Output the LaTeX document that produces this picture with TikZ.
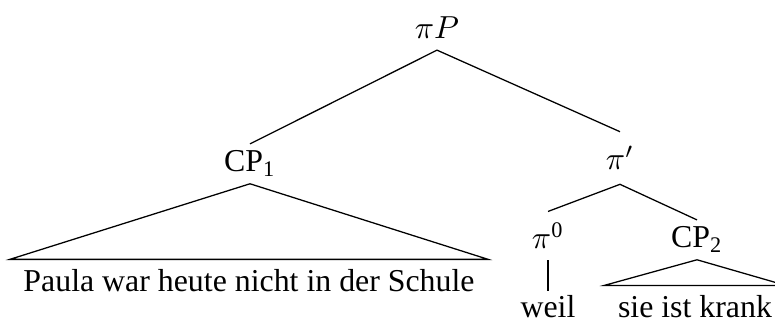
\documentclass[tikz,border=0pt]{standalone}
\usepackage{amssymb, amsmath}
\usepackage{fontspec}
\setmainfont{Liberation Serif}
\usepackage{tikz}

\tikzset{
	cat/.style={anchor=base, inner sep=3.3pt},
	leaf/.style={anchor=base, inner xsep=4.1pt, inner ysep=3.1pt}
}

\begin{document}
\begin{tikzpicture}[x=0.314pt, y=-0.314pt]
	\useasboundingbox (0, 0) rectangle (775, 323);
	% labels of the tree
	\node[cat] (pP) at (437, 39) {$\pi P$};
	\node[cat, inner ysep=2pt] (cpa) at (250, 172) {CP\textsubscript{1}};
	\node[cat, inner ysep=4.3pt] (pib) at (620, 170) {$\pi'$};
	\node[cat] (pin) at (548, 249) {$\pi$\textsuperscript{0}};
	\node[cat, inner ysep=2pt] (cpb) at (697, 248) {CP\textsubscript{2}};
	\node[cat, inner ysep=1.4pt] (weil) at (548, 318) {weil};
	\node[leaf] (txta) at (249, 292) {Paula war heute nicht in der Schule};
	\node[leaf] (txtb) at (695, 318) {sie ist krank};
	
	\draw (cpa.north) -- (pP.south) -- (pib.north);
	\draw (pin.north) -- (pib.south) -- (cpb.north);
	\draw (pin.south) -- (weil.north);
	\draw (cpa.south) -- (txta.north west) -- (txta.north east) -- cycle;
	\draw (cpb.south) -- (txtb.north west) -- (txtb.north east) -- cycle;
\end{tikzpicture}
\end{document}
